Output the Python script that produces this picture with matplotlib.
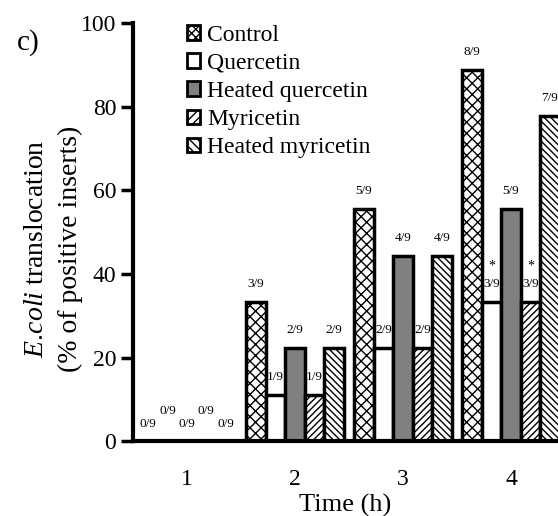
import matplotlib.pyplot as plt
import numpy as np
from matplotlib.patches import Patch

plt.rcParams['font.family'] = ['Liberation Serif', 'DejaVu Serif']
plt.rcParams['mathtext.fontset'] = 'custom'
plt.rcParams['mathtext.rm'] = 'Liberation Serif'
plt.rcParams['mathtext.it'] = 'Liberation Serif:italic'
plt.rcParams['hatch.linewidth'] = 1.0

# data: fraction of positive inserts (n of 9), in %
times = [1, 2, 3, 4]
series = ["Control", "Quercetin", "Heated quercetin", "Myricetin", "Heated myricetin"]
control = [0, 33.3, 55.6, 88.9]
quercetin = [0, 11.1, 22.2, 33.3]
heated_quercetin = [0, 22.2, 44.4, 55.6]
myricetin = [0, 11.1, 22.2, 33.3]
heated_myricetin = [0, 22.2, 44.4, 77.8]
labels_control = ["0/9", "3/9", "5/9", "8/9"]
labels_quercetin = ["0/9", "1/9", "2/9", "3/9"]
labels_hq = ["0/9", "2/9", "4/9", "5/9"]
labels_myricetin = ["0/9", "1/9", "2/9", "3/9"]
labels_hm = ["0/9", "2/9", "4/9", "7/9"]
star_quercetin = ["", "", "", "*"]
star_myricetin = ["", "", "", "*"]

values = [control, quercetin, heated_quercetin, myricetin, heated_myricetin]
labels = [labels_control, labels_quercetin, labels_hq, labels_myricetin, labels_hm]
stars = [None, star_quercetin, None, star_myricetin, None]
colors = ["white", "white", "#808080", "white", "white"]
hatches = ["xxx", "", "", "/////", "\\\\\\\\\\"]
legend_hatches = ["xxxx", "", "", "////", "\\\\\\\\"]

fig = plt.figure(figsize=(5.58, 5.16), dpi=100)
ax = fig.add_axes([0.238, 0.145, 0.762, 0.81])

w = 0.18
x = np.array(times, dtype=float)
for i in range(5):
    off = (i - 2) * w
    ax.bar(x + off, values[i], w, color=colors[i], edgecolor="black",
           linewidth=2.5, hatch=hatches[i], zorder=3)
    for j in range(4):
        v = values[i][j]
        if v == 0:
            dy = 7.3 if i % 2 == 1 else 4.1
        else:
            dy = 4.3
        ax.text(x[j] + off, v + dy, labels[i][j], ha="center", va="center",
                fontsize=9.5, zorder=4)
        if stars[i] is not None and stars[i][j]:
            ax.text(x[j] + off, v + 8.6, stars[i][j], ha="center", va="center",
                    fontsize=10, zorder=4)

ax.set_xlim(0.5, 4.435)
ax.set_ylim(0, 100)
ax.set_xticks(times)
ax.set_yticks([0, 20, 40, 60, 80, 100])
ax.tick_params(axis="x", length=0, labelsize=17, pad=20)
ax.tick_params(axis="y", length=9, width=2.5, labelsize=17, pad=3)
for s in ["top", "right"]:
    ax.spines[s].set_visible(False)
for s in ["left", "bottom"]:
    ax.spines[s].set_linewidth(3)
ax.spines["left"].set_zorder(5)
ax.spines["bottom"].set_zorder(5)

ax.set_xlabel("Time (h)", fontsize=19)
ax.xaxis.set_label_coords(0.5, -0.127)
ax.set_ylabel("$\\it{E.\\!coli}$ translocation\n(% of positive inserts)", fontsize=20,
              linespacing=1.45)
ax.yaxis.set_label_coords(-0.117, 0.46)

fig.text(0.03, 0.918, "c)", fontsize=21, ha="left", va="center")

handles = [Patch(facecolor=colors[i], edgecolor="black", linewidth=2,
                 hatch=legend_hatches[i]) for i in range(5)]
fig.legend(handles, series, loc="upper left", bbox_to_anchor=(0.335, 0.952),
           frameon=False, fontsize=17, handlelength=0.55, handleheight=0.55,
           handletextpad=0.3, labelspacing=0.3, borderpad=0, borderaxespad=0)

fig.savefig("out.png", dpi=100)
